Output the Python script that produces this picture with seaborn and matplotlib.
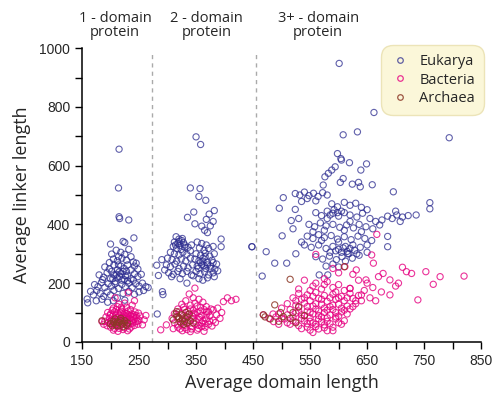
import numpy as np
import pandas as pd
import matplotlib
matplotlib.use("Agg")
import matplotlib.pyplot as plt
from matplotlib.lines import Line2D
import seaborn as sns

# ---------------- data ----------------
euk_1 = [(215,656),(214,524),(215,426),(216,420),(232,415),(241,354),(222,342),(225,338),(200,333),(202,299),
         (210,312),(218,305),(225,298),(232,315),(214,290),
         (205,282),(212,276),(220,285),(228,278),(236,290),(240,272),(198,270),
         (190,255),(198,248),(206,262),(212,245),(218,258),(224,250),(230,262),(236,245),(242,258),(248,248),(202,240),(245,268),
         (180,228),(188,220),(194,235),(200,215),(206,228),(212,218),(218,232),(224,212),(230,225),(236,215),(242,232),(248,222),(254,230),(186,212),(215,238),(228,240),
         (172,195),(178,188),(184,202),(190,185),(196,198),(202,190),(208,205),(214,182),(220,196),(226,188),(232,200),(238,185),(244,198),(250,190),(256,200),(262,188),(266,185),
         (165,172),(170,160),(176,175),(182,165),(188,155),(194,170),(200,160),(206,175),(212,150),(222,165),(232,172),(242,162),(250,170),(258,175),
         (159,146),(160,133),(175,140),(185,145),(195,135),(205,140),(225,142),
         (210,230),(216,222),(222,240),(208,198),(220,210),(230,208),(214,262),(204,215),(226,225),(240,210)]
euk_2 = [(350,698),(358,672),(340,524),(357,522),(355,495),(367,482),(346,442),(382,447),(335,424),(373,435),(348,402),(368,417),(360,394),
         (394,350),(394,324),(448,324),(281,261),(284,226),(291,171),(292,161),(282,95),(382,222),(334,200),(365,380),(375,395),(380,410),(370,372),
         (315,358),(320,350),(325,345),(312,340),(318,335),(322,328),(328,338),(310,325),(316,318),(324,315),(330,322),(305,305),(312,300),(320,296),
         (327,305),(334,298),(300,285),(308,280),(316,275),(324,282),(332,275),(340,285),(298,262),(305,256),(313,265),(320,250),(328,258),(336,252),
         (344,262),(302,235),(310,230),(318,240),(326,232),(334,240),(342,228),(307,222),(322,215),(290,280),(295,245),
         (352,340),(360,335),(368,330),(356,320),(364,312),(372,318),(380,325),(350,300),(358,295),(366,302),(374,292),(382,300),(348,282),(355,276),
         (362,285),(370,270),(378,278),(386,265),(352,258),(360,262),(367,250),(375,258),(383,248),(350,240),(357,232),(365,238),(372,228),(380,235),
         (388,242),(355,215),(362,210),(370,218),(345,225),(340,310),(342,330),
         (314,330),(320,342),(326,352),(330,330),(336,322),(358,270),(364,260),(370,262),(362,275),(376,250),(366,290),(354,250),(380,270)]
euk_3 = [(601,948),(662,781),(608,705),(633,715),(794,695),(598,641),(604,624),(605,619),(619,610),(649,606),(594,596),(588,585),(582,574),(576,562),
         (639,585),(608,556),(603,543),(624,537),(635,543),(638,528),(659,535),(573,534),(696,511),(503,491),(496,455),(524,451),(517,413),(760,474),
         (760,453),(501,361),(473,307),(448,324),(488,268),(509,268),(466,224),(686,324),(686,359),(566,228),(581,228),
         (524,505),(532,500),(540,510),(548,498),(556,506),(564,495),(572,508),(580,500),(545,488),(560,480),(535,478),
         (676,415),(686,428),(694,420),(702,432),(712,425),(722,430),(736,432),(700,445),(708,410),
         (588,470),(598,460),(610,475),(620,465),(630,472),(640,458),(650,450),
         (560,440),(570,430),(580,445),(590,438),(600,428),(610,440),(620,432),(632,425),(642,438),(655,420),(665,410),
         (548,400),(558,392),(568,405),(578,395),(590,400),(602,390),(614,398),(626,388),(636,400),(648,392),(660,385),(672,398),
         (545,360),(555,352),(565,365),(575,355),(587,362),(598,350),(610,358),(622,348),(634,360),(646,352),(658,345),
         (540,330),(552,322),(565,330),(578,318),(590,325),(600,315),(608,320),(615,308),(620,318),(628,312),(638,322),(650,305),
         (560,290),(572,282),(584,292),(596,280),(606,290),(616,300),(624,285),(636,295),(612,275),(590,265),(600,255),(578,258),
         (530,420),(520,385),(535,340),(525,300),
         (605,305),(612,325),(618,300),(625,330),(595,310),(585,305),(632,300),(598,440),(585,432),(605,445),(592,450),(575,380),
         (610,380),(640,375),(555,375),(620,410),(580,420),(600,340),(570,345),(650,330)]

bac_1 = [(205,115),(212,120),(220,112),(228,118),(235,110),(215,128),(225,132),(238,125),(231,167),(242,140),(208,150),
         (195,100),(200,95),(207,102),(213,96),(219,104),(225,98),(231,105),(237,95),(243,102),(249,98),
         (192,85),(198,80),(204,88),(210,82),(216,90),(222,84),(228,88),(234,80),(240,86),(246,82),(252,88),
         (190,70),(196,66),(202,74),(208,68),(214,72),(220,64),(226,70),(232,66),(238,72),(244,68),(250,74),
         (194,55),(200,50),(206,58),(212,52),(218,56),(224,48),(230,54),(236,50),(242,56),(248,60),
         (205,40),(213,36),(222,42),(230,38),(185,69),(259,75),(256,58),(188,60),(262,90),
         (203,108),(210,110),(217,100),(223,92),(229,96),(235,88),(241,92),(199,90),(205,76),(211,62),(217,76),(223,78),(229,76),
         (235,62),(241,78),(247,70),(199,62),(207,46),(215,46),(227,60),(233,44),(239,64),(209,92),(221,70),(213,84),(227,82),
         (201,70),(245,90),(219,118),(231,92)]
bac_2 = [(348,183),(338,163),(345,150),(355,145),(332,140),(362,135),(325,128),(340,125),(352,122),(368,120),(318,112),(330,110),(345,108),
         (358,105),(372,102),(312,96),(324,95),(336,92),(348,94),(360,90),(374,88),(386,92),(308,80),(320,82),(332,78),(344,80),(356,76),
         (368,78),(380,74),(392,80),(312,65),(324,62),(336,66),(348,60),(360,64),(372,60),(384,66),(318,50),(330,48),(342,52),(354,46),
         (366,50),(378,54),(326,38),(340,35),(352,40),(364,36),(420,145),(398,137),(405,150),(412,140),(380,109),(388,115),(369,103),
         (288,41),(298,58),(310,45),(395,100),
         (328,118),(340,112),(352,100),(364,110),(320,102),(332,86),(344,88),(356,84),(368,92),(326,72),(338,74),(350,70),(362,72),
         (374,70),(318,58),(330,56),(342,44),(354,56),(366,62),(336,104),(346,98),(358,118),(376,112),(316,86),(322,44),(334,42),
         (348,132),(360,52)]
bac_3 = [(540,210),(560,200),(580,205),(600,195),(590,185),(570,180),(550,175),(610,175),(620,182),
         (530,165),(545,160),(560,168),(575,158),(590,162),(605,155),(620,165),(635,158),
         (520,150),(535,145),(550,140),(565,148),(580,138),(595,145),(610,140),(625,148),(640,140),
         (510,130),(525,125),(540,132),(555,122),(570,128),(585,120),(600,128),(615,122),(630,130),
         (500,115),(515,110),(530,118),(545,105),(560,112),(575,100),(590,110),(605,102),(620,112),
         (495,95),(510,92),(525,98),(540,88),(555,95),(570,85),(585,92),(600,88),(615,95),
         (505,78),(520,72),(535,80),(550,70),(565,78),(580,70),(595,78),(610,72),
         (515,60),(530,55),(545,62),(560,52),(575,58),(590,50),(605,60),
         (535,45),(550,40),(565,44),(580,38),(555,32),
         (468,92),(486,69),(478,80),(495,60),(490,85),
         (712,254),(719,239),(728,233),(753,239),(778,222),(766,196),(820,224),(739,143),(690,211),(705,200),(678,233),(670,222),
         (658,296),(661,268),(667,366),(560,298),(611,256),(631,245),(648,211),(620,182),(640,160),(655,150),(630,140),(645,175),
         (660,185),(675,170),(690,160),(700,190),(650,200),(635,210),(665,140),(625,230),(600,235),(590,250),(575,215),
         (525,140),(540,150),(555,155),(570,145),(585,150),(600,150),(545,120),(560,130),(575,115),(590,125),(605,115),(530,105),
         (550,100),(565,105),(580,108),(595,100),(610,108),(520,85),(535,92),(550,82),(565,90),(580,82),(595,85),(510,65),
         (525,68),(540,72),(555,65),(570,68),(585,62),(600,65),(545,50),(560,60),(575,48),(590,38),(530,180),(555,190),
         (575,195),(595,170),(615,150),(625,120),(500,80),(485,95)]

arc_1 = [(200,62),(205,70),(210,58),(215,66),(220,60),(225,72),(230,64),(208,78),(218,80),(212,55),(222,52),(185,72),(228,56),(203,55),
         (212,68),(218,72),(224,64),(206,64)]
arc_2 = [(320,80),(325,92),(330,70),(335,85),(315,95),(316,103),(328,60),(340,72),(322,68),(338,95),(345,65),(310,75),(332,100),
         (326,78),(318,86),(334,64)]
arc_3 = [(468,92),(471,85),(488,126),(515,213),(610,256),(503,86),(515,80),(520,100),(480,78),(495,70),(525,65),(540,90),(498,100),(530,120)]

domains = ["Eukarya", "Bacteria", "Archaea"]
colors = {"Eukarya": (0.17, 0.17, 0.56, 0.75),
          "Bacteria": (0.90, 0.00, 0.50, 0.8),
          "Archaea": (0.55, 0.22, 0.15, 0.85)}
region_labels = ["1 - domain\nprotein", "2 - domain\nprotein", "3+ - domain\nprotein"]
region_label_x = [208, 368, 564]
divider_x = [272, 456]
x_ticks = [150, 250, 350, 450, 550, 650, 750, 850]
y_ticks = [0, 200, 400, 600, 800, 1000]

rows = []
for name, groups in [("Eukarya", [euk_1, euk_2, euk_3]),
                     ("Bacteria", [bac_1, bac_2, bac_3]),
                     ("Archaea", [arc_1, arc_2, arc_3])]:
    for g in groups:
        for xv, yv in g:
            rows.append((xv, yv, name))
df = pd.DataFrame(rows, columns=["domain_len", "linker_len", "kingdom"])

# ---------------- plotting ----------------
sns.set_style("ticks")
plt.rcParams["font.family"] = ["Liberation Sans", "DejaVu Sans"]

fig = plt.figure(figsize=(4.94, 3.98), dpi=100)
ax = fig.add_axes([0.166, 0.141, 0.808, 0.738])

sns.scatterplot(data=df, x="domain_len", y="linker_len", hue="kingdom",
                hue_order=domains, palette=colors, s=20, marker="o",
                linewidth=0.8, legend=False, ax=ax)
coll = ax.collections[-1]
fc = coll.get_facecolors()
coll.set_edgecolors(fc)
coll.set_facecolors("none")

for dx in divider_x:
    ax.plot([dx, dx], [0, 985], ls=(0, (3, 3)), color="#aaaaaa", lw=1, clip_on=False, zorder=0)

for lx, lt in zip(region_label_x, region_labels):
    ax.text(lx, 1078, lt, ha="center", va="center", fontsize=10.5,
            linespacing=0.95, clip_on=False, family=["Open Sans", "DejaVu Sans"])

ax.set_xlim(150, 850)
ax.set_ylim(0, 1000)
ax.set_xticks(x_ticks)
ax.set_yticks(y_ticks)
ax.set_xticks([200, 300, 400, 500, 600, 700, 800], minor=True)
ax.set_yticks([100, 300, 500, 700, 900], minor=True)
ax.tick_params(axis="both", which="both", direction="out", length=5, width=1, labelsize=10, color="black")
ax.tick_params(axis="x", pad=4)
sns.despine(ax=ax)
for sp in ["left", "bottom"]:
    ax.spines[sp].set_linewidth(1.1)
    ax.spines[sp].set_color("black")

ax.set_xlabel("Average domain length", fontsize=13, family=["Open Sans", "DejaVu Sans"], labelpad=4)
ax.set_ylabel("Average linker length", fontsize=13, family=["Open Sans", "DejaVu Sans"], labelpad=6)

handles = [Line2D([0], [0], marker="o", ls="none", markersize=4, markerfacecolor="none",
                  markeredgecolor=colors[d], markeredgewidth=0.9) for d in domains]
leg = ax.legend(handles, domains, loc="upper right", bbox_to_anchor=(1.025, 1.035),
                frameon=True, fancybox=True, handletextpad=0.6,
                borderpad=0.6, labelspacing=0.25, handlelength=1.4,
                prop={"family": ["Open Sans", "DejaVu Sans"], "size": 10.5})
leg.get_frame().set_facecolor("#fbf7d9")
leg.get_frame().set_edgecolor("#ece4b8")
leg.get_frame().set_alpha(1)
leg.get_frame().set_boxstyle("round", pad=0.0, rounding_size=0.8)

fig.savefig("out.png", dpi=100)
